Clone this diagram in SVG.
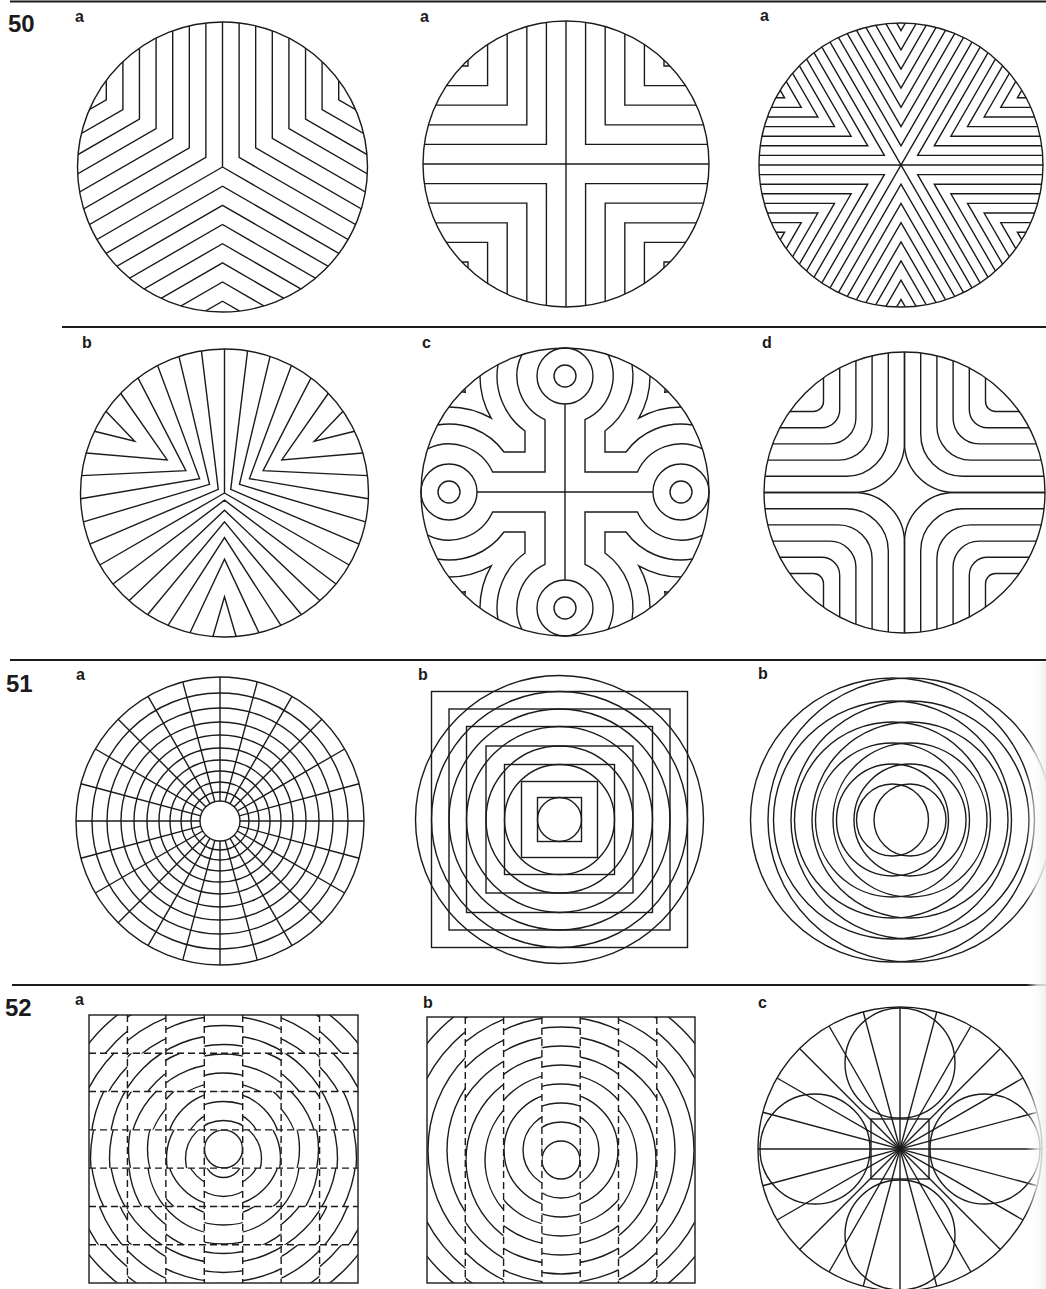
<svg xmlns="http://www.w3.org/2000/svg" width="1046" height="1289" viewBox="0 0 1046 1289">
<style>
.l{fill:none;stroke:#1b1b1b;stroke-width:1.4}
.w{fill:#fff;stroke:#1b1b1b;stroke-width:1.4}
.d{fill:none;stroke:#1b1b1b;stroke-width:1.4;stroke-dasharray:7 4}
.r{stroke:#1b1b1b;stroke-width:2.2}
.n{font-family:"Liberation Sans",Arial,sans-serif;font-weight:bold;font-size:24px;fill:#1b1b1b}
.t{font-family:"Liberation Sans",Arial,sans-serif;font-weight:bold;font-size:16px;fill:#1b1b1b}
</style>
<defs>
<clipPath id="c145"><circle r="145"/></clipPath>
<clipPath id="c143"><circle r="143"/></clipPath>
<clipPath id="c142"><circle r="142"/></clipPath>
<clipPath id="c144"><circle r="144"/></clipPath>
<clipPath id="c141"><circle r="140.5"/></clipPath>
<g id="s60" class="l"><path d="M-259.8 -169.2L0 -19.2L259.8 -169.2M-259.8 -188.3L0 -38.3L259.8 -188.3M-259.8 -207.5L0 -57.5L259.8 -207.5M-259.8 -226.7L0 -76.7L259.8 -226.7M-259.8 -245.9L0 -95.9L259.8 -245.9M-259.8 -265L0 -115L259.8 -265M-259.8 -284.2L0 -134.2L259.8 -284.2"/></g>
<g id="s45" class="l"><path d="M-212.1 -239.8L0 -27.7L212.1 -239.8M-212.1 -267.5L0 -55.4L212.1 -267.5M-212.1 -295.3L0 -83.2L212.1 -295.3M-212.1 -323L0 -110.9L212.1 -323M-212.1 -350.7L0 -138.6L212.1 -350.7"/></g>
<g id="s30" class="l"><path d="M-150 -279L0 -19.2L150 -279M-150 -298.2L0 -38.4L150 -298.2M-150 -317.4L0 -57.6L150 -317.4M-150 -336.6L0 -76.8L150 -336.6M-150 -355.8L0 -96L150 -355.8M-150 -375L0 -115.2L150 -375M-150 -394.2L0 -134.4L150 -394.2"/></g>
<g id="sb" class="l"><path d="M-11.59 -143.53L0 -103.7L11.59 -143.53M-34.46 -139.82L0 -66.2L34.46 -139.82M-56.45 -132.48L0 -44.6L56.45 -132.48M-76.97 -121.71L0 -28.8L76.97 -121.71M-95.5 -107.78L0 -17.3L95.5 -107.78M-111.56 -91.05L0 -7.2L111.56 -91.05"/></g>
<g id="qc" class="l"><path d="M-43.1 -137.4A48 48 0 0 0 -20 -72.4L-20 -20L-72.4 -20A48 48 0 0 0 -137.4 -43.1M-67 -127.5A68 68 0 0 0 -40 -61L-40 -40L-61 -40A68 68 0 0 0 -127.5 -67M-85.05 -116.2A85 85 0 0 0 -73.8 -73.8A85 85 0 0 0 -116.2 -85.05M-100.2 -103.4A101 101 0 0 0 -99.7 -99.7A101 101 0 0 0 -103.4 -100.2"/></g>
<g id="qd" class="l"><path d="M0 -200V-50A50 50 0 0 1 -50 0H-200M-16.2 -200V-58.2A42 42 0 0 1 -58.2 -16.2H-200M-32.4 -200V-66.4A34 34 0 0 1 -66.4 -32.4H-200M-48.6 -200V-74.6A26 26 0 0 1 -74.6 -48.6H-200M-64.8 -200V-82.8A18 18 0 0 1 -82.8 -64.8H-200M-81 -200V-91A10 10 0 0 1 -91 -81H-200"/></g>
<line id="dia144" class="l" x1="-144" y1="0" x2="144" y2="0"/>
<line id="dia142" class="l" x1="-142" y1="0" x2="142" y2="0"/>
<g id="rg" class="l"><circle r="19"/><circle r="38"/><circle r="57"/><circle r="76"/><circle r="95"/><circle r="114"/><circle r="133"/><circle r="152"/><circle r="171"/><circle r="190"/></g>
<pattern id="pe" patternUnits="userSpaceOnUse" x="89" y="1015" width="76.86" height="76.58"><rect width="38.43" height="38.29" fill="#fff"/><rect x="38.43" y="38.29" width="38.43" height="38.29" fill="#fff"/></pattern>
<pattern id="po" patternUnits="userSpaceOnUse" x="89" y="1015" width="76.86" height="76.58"><rect x="38.43" width="38.43" height="38.29" fill="#fff"/><rect y="38.29" width="38.43" height="38.29" fill="#fff"/></pattern>
<mask id="me" maskUnits="userSpaceOnUse" x="89" y="1015" width="269" height="268"><rect x="89" y="1015" width="269" height="268" fill="url(#pe)"/></mask>
<mask id="mo" maskUnits="userSpaceOnUse" x="89" y="1015" width="269" height="268"><rect x="89" y="1015" width="269" height="268" fill="url(#po)"/></mask>
<pattern id="ce" patternUnits="userSpaceOnUse" x="427" y="0" width="76.6" height="1289"><rect width="38.3" height="1289" fill="#fff"/></pattern>
<pattern id="co" patternUnits="userSpaceOnUse" x="427" y="0" width="76.6" height="1289"><rect x="38.3" width="38.3" height="1289" fill="#fff"/></pattern>
<mask id="be" maskUnits="userSpaceOnUse" x="427" y="1017" width="268" height="266"><rect x="427" y="1017" width="268" height="266" fill="url(#ce)"/></mask>
<mask id="bo" maskUnits="userSpaceOnUse" x="427" y="1017" width="268" height="266"><rect x="427" y="1017" width="268" height="266" fill="url(#co)"/></mask>
<linearGradient id="fade" x1="0" x2="1" y1="0" y2="0"><stop offset="0" stop-color="#fff" stop-opacity="0"/><stop offset="0.55" stop-color="#fafafa" stop-opacity="0.75"/><stop offset="1" stop-color="#eeeeee" stop-opacity="0.9"/></linearGradient>
</defs>
<rect width="1046" height="1289" fill="#fff"/>

<g id="rules">
<path class="r" d="M10 1.5H1046" stroke-width="3"/>
<path class="r" d="M62 327H1046M10 660H1046M12 985H1046"/>
</g>

<g id="labels">
<text class="n" x="8" y="32">50</text>
<text class="n" x="6" y="692">51</text>
<text class="n" x="5" y="1016">52</text>
<text class="t" x="75" y="22">a</text>
<text class="t" x="420" y="22">a</text>
<text class="t" x="760" y="21">a</text>
<text class="t" x="82" y="348">b</text>
<text class="t" x="422" y="348">c</text>
<text class="t" x="762" y="348">d</text>
<text class="t" x="76" y="680">a</text>
<text class="t" x="418" y="680">b</text>
<text class="t" x="758" y="679">b</text>
<text class="t" x="75" y="1005">a</text>
<text class="t" x="423" y="1008">b</text>
<text class="t" x="758" y="1008">c</text>
</g>

<g id="p50a1" transform="translate(222.5,167)">
<g clip-path="url(#c145)">
<use href="#s60" transform="rotate(-60)"/>
<use href="#s60" transform="rotate(60)"/>
<use href="#s60" transform="rotate(180)"/>
<path class="l" d="M0 0V-200M0 0L-173.2 100M0 0L173.2 100"/>
</g>
<circle class="l" r="145"/>
</g>

<g id="p50a2" transform="translate(566,164)">
<g clip-path="url(#c143)">
<use href="#s45" transform="rotate(45)"/>
<use href="#s45" transform="rotate(135)"/>
<use href="#s45" transform="rotate(225)"/>
<use href="#s45" transform="rotate(315)"/>
<path class="l" d="M-200 0H200M0 -200V200"/>
</g>
<circle class="l" r="143"/>
</g>

<g id="p50a3" transform="translate(901,165)">
<g clip-path="url(#c142)">
<use href="#s30"/>
<use href="#s30" transform="rotate(60)"/>
<use href="#s30" transform="rotate(120)"/>
<use href="#s30" transform="rotate(180)"/>
<use href="#s30" transform="rotate(240)"/>
<use href="#s30" transform="rotate(300)"/>
<path class="l" d="M-200 0H200M100 -173.2L-100 173.2M-100 -173.2L100 173.2"/>
</g>
<circle class="l" r="142"/>
</g>

<g id="p50b" transform="translate(224.5,493)">
<use href="#sb" transform="rotate(-60)"/>
<use href="#sb" transform="rotate(60)"/>
<use href="#sb" transform="rotate(180)"/>
<path class="l" d="M0 0V-144M0 0L-124.7 72M0 0L124.7 72"/>
<circle class="l" r="144"/>
</g>

<g id="p50c" transform="translate(565,492)">
<g clip-path="url(#c144)">
<use href="#qc"/>
<use href="#qc" transform="scale(-1,1)"/>
<use href="#qc" transform="scale(1,-1)"/>
<use href="#qc" transform="scale(-1,-1)"/>
</g>
<path class="l" d="M0 -88V88M-88 0H88"/>
<circle class="l" cy="-116" r="28"/><circle class="l" cy="-116" r="11"/>
<circle class="l" cy="116" r="28"/><circle class="l" cy="116" r="11"/>
<circle class="l" cx="-116" r="28"/><circle class="l" cx="-116" r="11"/>
<circle class="l" cx="116" r="28"/><circle class="l" cx="116" r="11"/>
<circle class="l" r="144"/>
</g>

<g id="p50d" transform="translate(904.5,492.5)">
<g clip-path="url(#c141)">
<use href="#qd"/>
<use href="#qd" transform="scale(-1,1)"/>
<use href="#qd" transform="scale(1,-1)"/>
<use href="#qd" transform="scale(-1,-1)"/>
</g>
<circle class="l" r="140.5"/>
</g>

<g id="p51a" transform="translate(220,821)">
<g class="l"><circle r="29"/><circle r="39"/><circle r="50"/><circle r="61"/><circle r="73"/><circle r="86"/><circle r="99"/><circle r="113"/><circle r="128"/><circle r="144"/></g>
<use href="#dia144"/><use href="#dia144" transform="rotate(15)"/><use href="#dia144" transform="rotate(30)"/><use href="#dia144" transform="rotate(45)"/><use href="#dia144" transform="rotate(60)"/><use href="#dia144" transform="rotate(75)"/><use href="#dia144" transform="rotate(90)"/><use href="#dia144" transform="rotate(105)"/><use href="#dia144" transform="rotate(120)"/><use href="#dia144" transform="rotate(135)"/><use href="#dia144" transform="rotate(150)"/><use href="#dia144" transform="rotate(165)"/>
<circle class="w" r="20"/>
</g>

<g id="p51b" transform="translate(559.5,819.5)">
<g class="l">
<rect x="-128" y="-128" width="256" height="256"/>
<rect x="-110.5" y="-110.5" width="221" height="221"/>
<rect x="-93" y="-93" width="186" height="186"/>
<rect x="-73.5" y="-73.5" width="147" height="147"/>
<rect x="-55" y="-55" width="110" height="110"/>
<rect x="-38" y="-38" width="76" height="76"/>
<rect x="-22" y="-22" width="44" height="44"/>
<circle r="144"/><circle r="128"/><circle r="110.5"/><circle r="93"/><circle r="73.5"/><circle r="55"/><circle r="22"/>
</g>
</g>

<g id="p51c" class="l">
<g transform="translate(892.5,820)"><circle r="36"/><circle r="56"/><circle r="77"/><circle r="98"/><circle r="119"/><circle r="142"/></g>
<g transform="translate(910,820)"><circle r="36"/><circle r="56"/><circle r="77"/><circle r="98"/><circle r="119"/><circle r="142"/></g>
</g>

<g id="p52a">
<g mask="url(#me)"><use href="#rg" x="223.5" y="1149"/></g>
<g mask="url(#mo)"><use href="#rg" x="223.5" y="1158.5"/></g>
<path class="d" d="M127.43 1015V1283M165.86 1015V1283M204.29 1015V1283M242.71 1015V1283M281.14 1015V1283M319.57 1015V1283M89 1053.29H358M89 1091.57H358M89 1129.86H358M89 1168.14H358M89 1206.43H358M89 1244.71H358"/>
<rect class="l" x="89" y="1015" width="269" height="268"/>
</g>

<g id="p52b">
<g mask="url(#be)"><use href="#rg" x="561" y="1150"/></g>
<g mask="url(#bo)"><use href="#rg" x="561" y="1160"/></g>
<path class="d" d="M465.3 1017V1283M503.6 1017V1283M541.9 1017V1283M580.2 1017V1283M618.5 1017V1283M656.8 1017V1283"/>
<rect class="l" x="427" y="1017" width="268" height="266"/>
</g>

<g id="p52c" transform="translate(900,1149)">
<use href="#dia142"/><use href="#dia142" transform="rotate(15)"/><use href="#dia142" transform="rotate(30)"/><use href="#dia142" transform="rotate(45)"/><use href="#dia142" transform="rotate(60)"/><use href="#dia142" transform="rotate(75)"/><use href="#dia142" transform="rotate(90)"/><use href="#dia142" transform="rotate(105)"/><use href="#dia142" transform="rotate(120)"/><use href="#dia142" transform="rotate(135)"/><use href="#dia142" transform="rotate(150)"/><use href="#dia142" transform="rotate(165)"/>
<g class="l">
<circle cy="-86" r="55"/><circle cy="86" r="55"/><circle cx="-85" r="55"/><circle cx="85" r="55"/>
<rect x="-29" y="-30" width="58" height="60"/>
<circle r="142"/>
</g>
</g>

<rect id="edge-fade" x="1026" y="662" width="20" height="627" fill="url(#fade)"/>
</svg>
